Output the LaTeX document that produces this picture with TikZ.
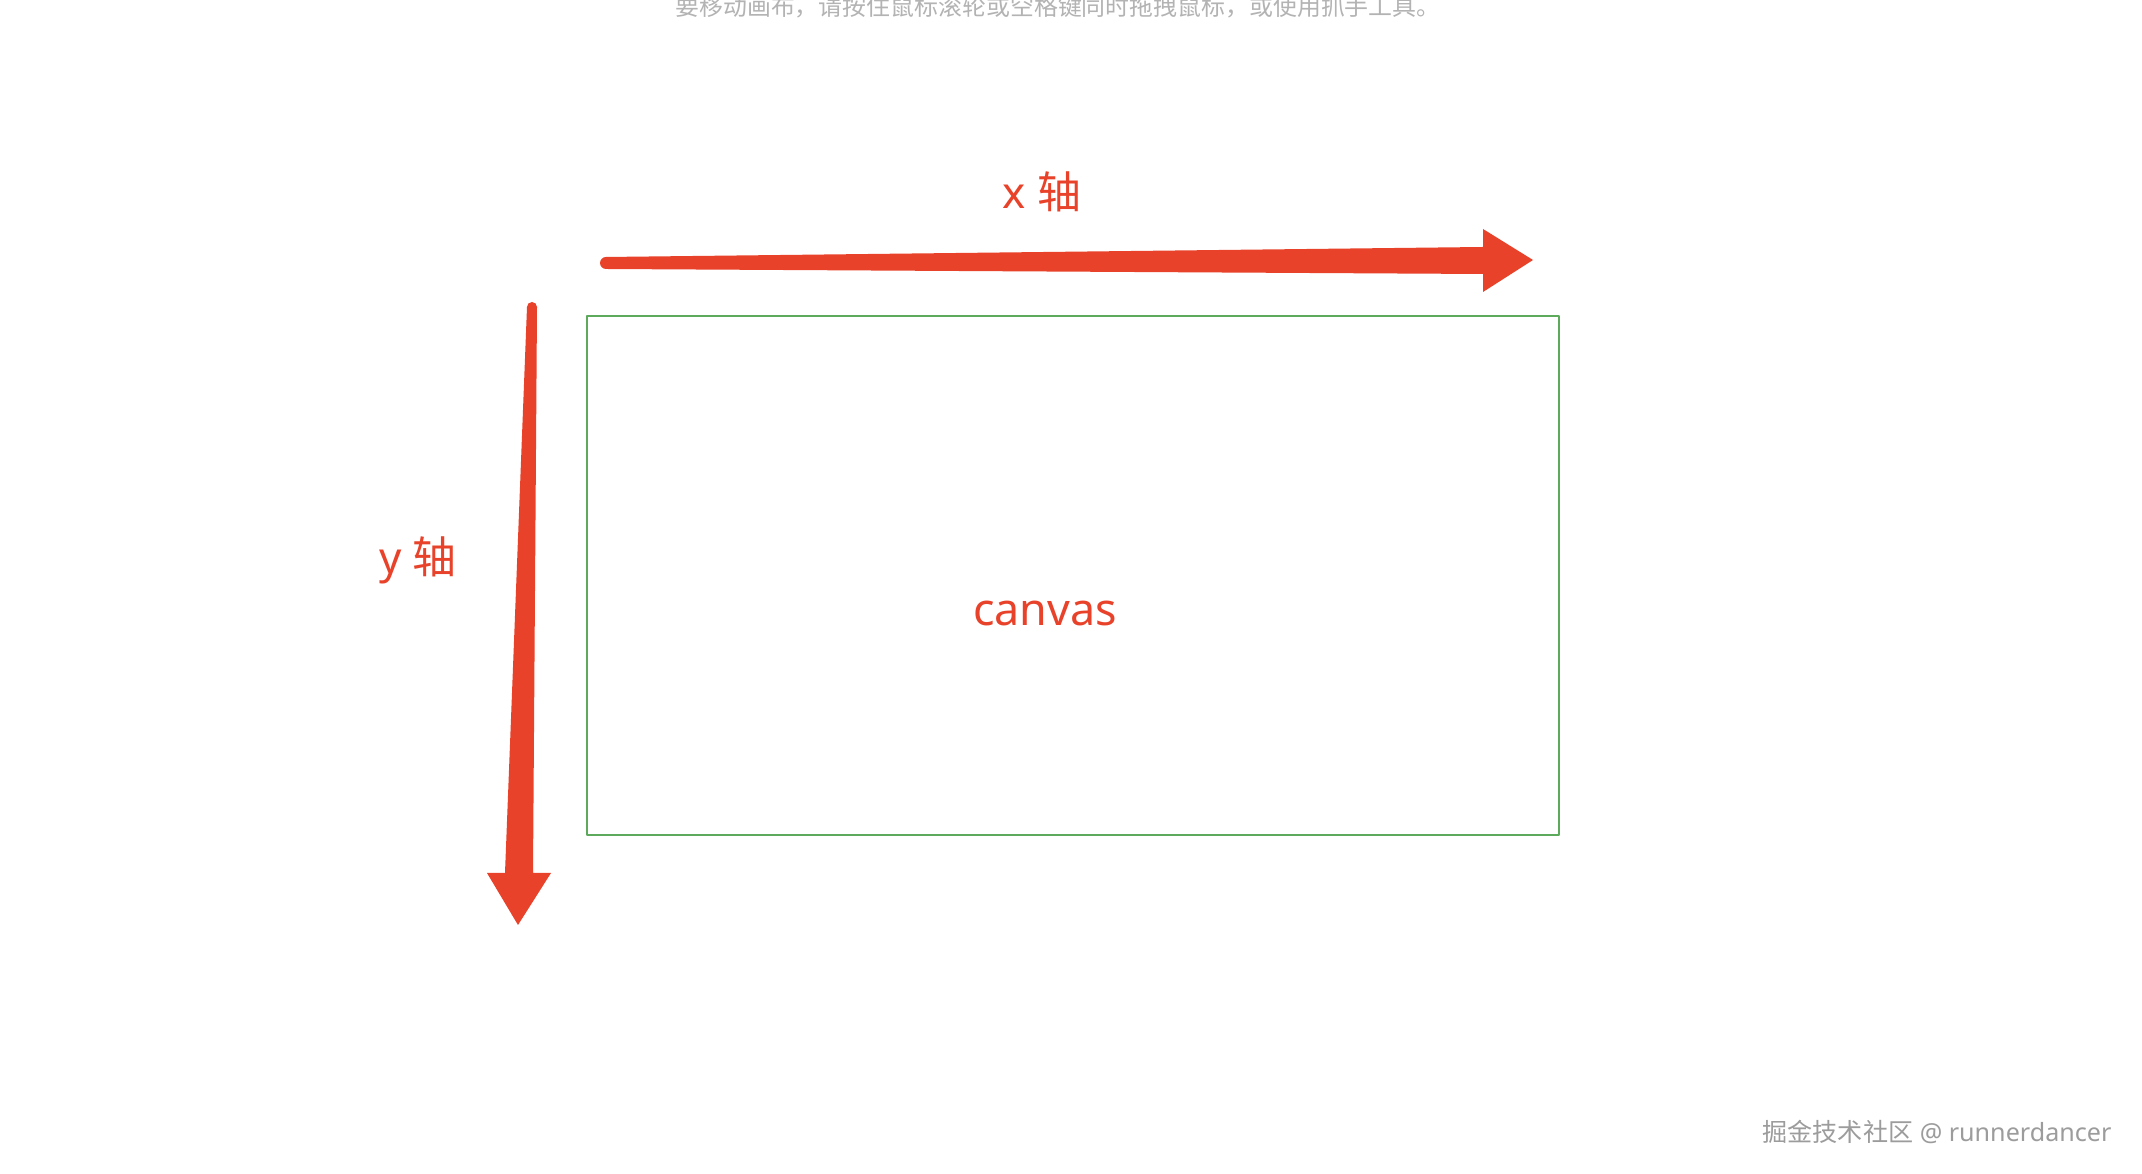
\documentclass[tikz,border=0pt]{standalone}
\usepackage{fontspec}
\setmainfont{Noto Sans}
\newfontfamily\cjk{Noto Sans CJK SC}
\definecolor{axisred}{HTML}{E8432A}
\definecolor{boxgreen}{HTML}{5DAA5D}
\definecolor{hintgray}{HTML}{B3B3B3}
\definecolor{markgray}{HTML}{9C9C9C}
\begin{document}
\begin{tikzpicture}[>=latex,line join=bevel,
  axislabel/.style={draw=none,text=axisred,inner sep=0bp,font=\fontsize{44}{44}\selectfont},
  ]
%%
\useasboundingbox[fill=white] (0bp,0bp) rectangle (2142bp,1174bp);
\node (hint) at (1058bp,1167bp) [draw=none,text=hintgray,inner sep=0bp] {\cjk\fontsize{24}{24}\selectfont 要移动画布，请按住鼠标滚轮或空格键同时拖拽鼠标，或使用抓手工具。};
  \node (canvasbox) at (1073bp,598.5bp) [draw=boxgreen,line width=2bp,minimum width=972bp,minimum height=519bp] {};
  \node (canvaslabel) at (1045bp,561bp) [axislabel,font=\fontsize{45}{45}\selectfont] {canvas};
  \node (xlabel) at (1042bp,982bp) [axislabel] {x {\cjk 轴}};
  \node (ylabel) at (418bp,614bp) [axislabel] {y {\cjk 轴}};
  \node (mark) at (1937bp,42bp) [draw=none,text=markgray,inner sep=0bp] {\fontsize{25.2}{25.2}\selectfont{\cjk 掘金技术社区} @ runnerdancer};
%
\coordinate (xs) at (606bp,911bp);
  \coordinate (xe) at (1533bp,914bp);
  \fill [axisred] ([yshift=-6bp]xs) arc[start angle=270,end angle=90,radius=6bp]
    -- ([xshift=-50bp,yshift=13bp]xe) -- ([xshift=-50bp,yshift=31bp]xe) -- (xe)
    -- ([xshift=-50bp,yshift=-32bp]xe) -- ([xshift=-50bp,yshift=-14bp]xe) -- cycle;
%
\coordinate (ys) at (532bp,867bp);
  \coordinate (ye) at (518bp,249bp);
  \fill [axisred] ([xshift=-5bp]ys) arc[start angle=180,end angle=0,radius=5bp]
    -- ([xshift=15bp,yshift=52bp]ye) -- ([xshift=33bp,yshift=52bp]ye) -- (ye)
    -- ([xshift=-31bp,yshift=52bp]ye) -- ([xshift=-13bp,yshift=52bp]ye) -- cycle;
%
\end{tikzpicture}
\end{document}
